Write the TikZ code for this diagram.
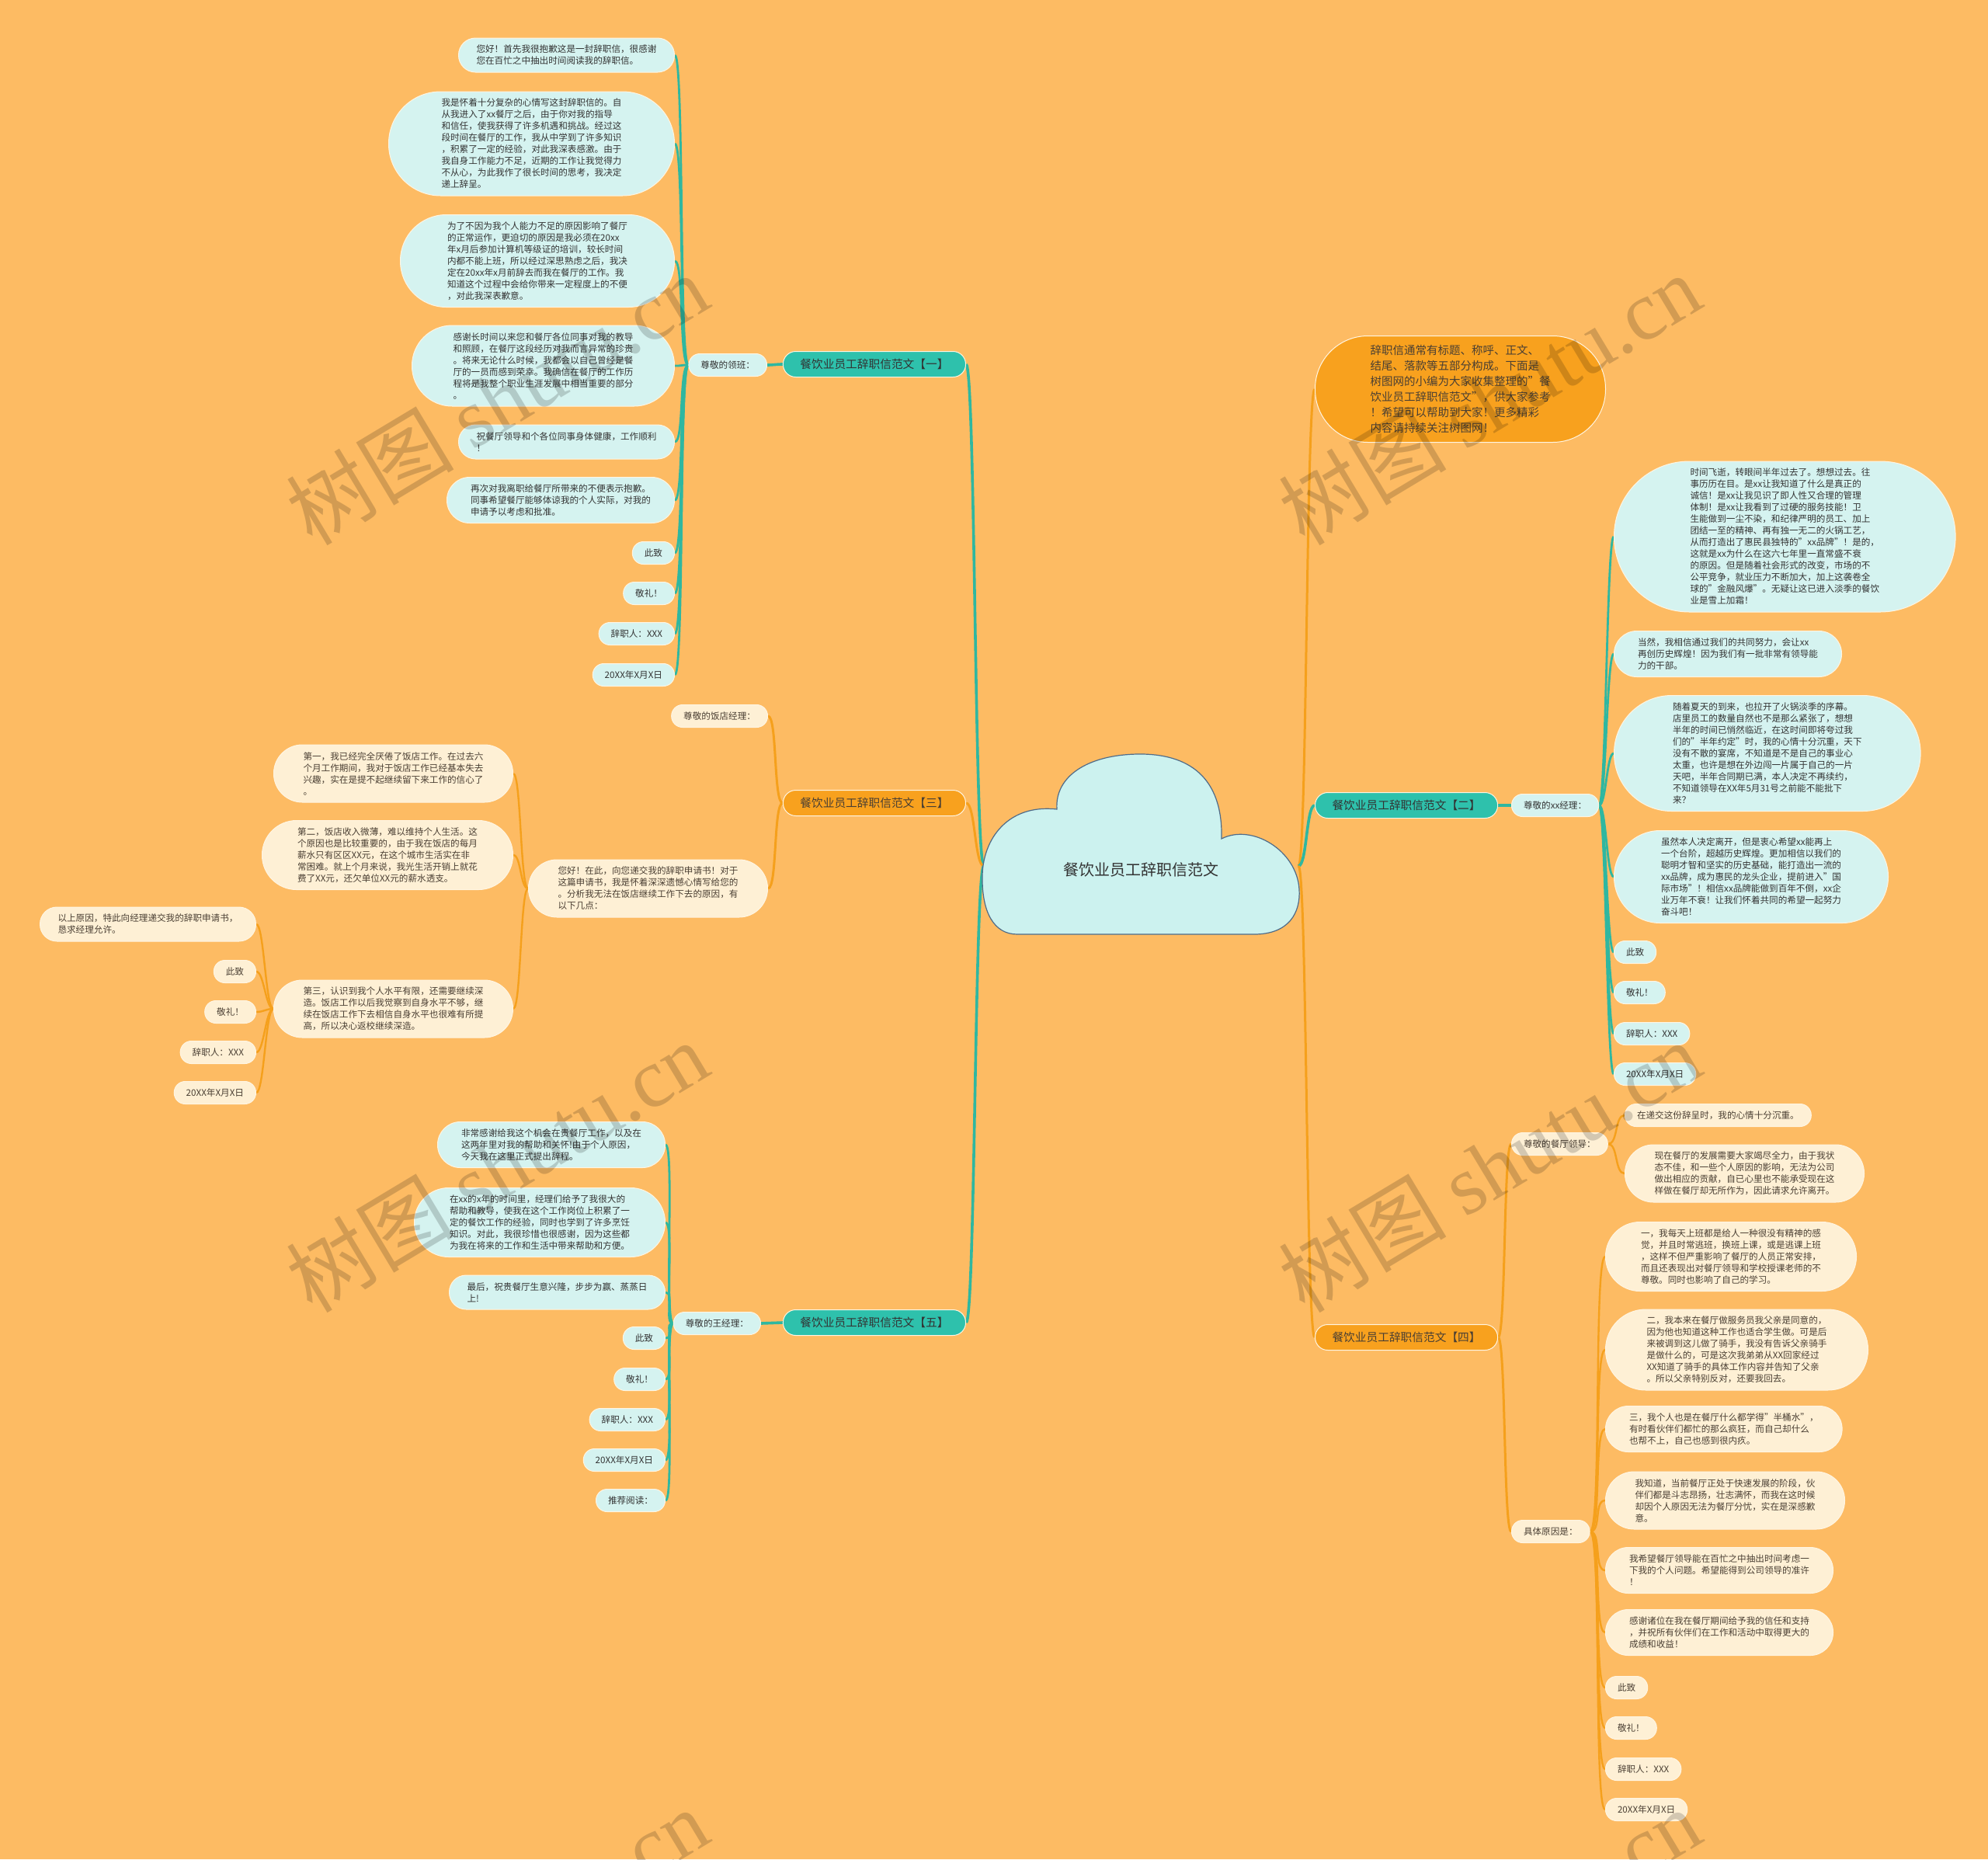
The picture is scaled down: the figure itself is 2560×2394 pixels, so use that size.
\documentclass[tikz,border=0pt]{standalone}
\usepackage{fontspec}
\setmainfont{Noto Sans CJK SC}
\newfontfamily\wmlatin{Liberation Serif}
\pgfdeclarelayer{lines}
\pgfsetlayers{lines,main}
\definecolor{bgc}{HTML}{FDBB63}
\definecolor{tealbr}{HTML}{2EC1AC}
\definecolor{tealleaf}{HTML}{D5F3F0}
\definecolor{orangebr}{HTML}{F8A11E}
\definecolor{creamleaf}{HTML}{FEF0D5}
\definecolor{tealln}{HTML}{2FB7A0}
\definecolor{orangeln}{HTML}{F5A01C}
\definecolor{cloudfill}{HTML}{CCF2EF}
\definecolor{cloudline}{HTML}{4F6B88}
\definecolor{txtdark}{HTML}{333333}
\definecolor{txtbrown}{HTML}{4A3F33}
\definecolor{edgelight}{HTML}{FFF5E2}
\newcommand\ConnL[4]{\draw[#1] (#2.west) .. controls +(-#4,0) and +(#4,0) .. (#3.east);}
\newcommand\ConnR[4]{\draw[#1] (#2.east) .. controls +(#4,0) and +(-#4,0) .. (#3.west);}
\tikzset{
 ln/.style={minimum height={29pt+15pt*(#1-1)}, rounded corners={14.3pt+7.5pt*(#1-1)}, inner xsep={15.5pt+7.5pt*(#1-1)}},
 leafbase/.style={rectangle, inner ysep=7pt, align=left, font=\fontsize{11.6}{15}\selectfont, line width=1pt, draw=edgelight},
 tleaf/.style={leafbase, fill=tealleaf, text=txtdark, ln=#1},
 cleaf/.style={leafbase, fill=creamleaf, text=txtbrown, ln=#1},
 tleaf/.default=1,
 cleaf/.default=1,
 branchbase/.style={rectangle, minimum height=33pt, rounded corners=16.3pt, inner xsep=22pt, inner ysep=8pt, font=\fontsize{14.7}{18}\selectfont, line width=1pt, draw=edgelight},
 tbranch/.style={branchbase, fill=tealbr, text=txtdark},
 obranch/.style={branchbase, fill=orangebr, text=txtbrown},
 introbox/.style={rectangle, fill=orangebr, draw=edgelight, line width=1pt, minimum height=137pt, rounded corners=68pt, inner xsep=71pt, inner ysep=8pt, align=left, font=\fontsize{14.5}{20}\selectfont, text=txtbrown},
 tline/.style={draw=tealln, line width=2.8pt},
 oline/.style={draw=orangeln, line width=2.4pt},
 tmain/.style={draw=tealln, line width=3.6pt},
 omain/.style={draw=orangeln, line width=3pt},
 wmark/.style={text=black, opacity=0.17, font=\fontsize{108}{108}\selectfont, rotate=31},
}
\begin{document}
\begin{tikzpicture}[x=1pt,y=-1pt]
\useasboundingbox (0,0) rectangle (2560,2394);

% ---------- cloud ----------
\draw[fill=cloudfill, draw=cloudline, line width=1.2pt]
 (1310,1203) -- (1615,1203)
 .. controls (1660,1203) and (1675,1175) .. (1673,1145)
 .. controls (1670,1095) and (1612,1060) .. (1573,1080)
 .. controls (1575,1000) and (1530,970) .. (1465,971)
 .. controls (1400,972) and (1358,1000) .. (1361,1042)
 .. controls (1298,1035) and (1266,1080) .. (1265,1127)
 .. controls (1264,1175) and (1280,1203) .. (1310,1203) -- cycle;
\node[font=\fontsize{20}{24}\selectfont, text=txtdark] (center) at (1469,1120) {餐饮业员工辞职信范文};
\coordinate (cL) at (1267,1115);
\coordinate (cR) at (1672,1115);

% ---------- branch 1 ----------
\node[tbranch, anchor=east] (b1) at (1244,469) {餐饮业员工辞职信范文【一】};
\node[tleaf, anchor=east] (s1) at (988,470) {尊敬的领班：};
\node[tleaf=2, anchor=east] (a1) at (869,71) {您好！首先我很抱歉这是一封辞职信，很感谢\\您在百忙之中抽出时间阅读我的辞职信。};
\node[tleaf=8, anchor=east] (a2) at (869,185) {我是怀着十分复杂的心情写这封辞职信的。自\\从我进入了xx餐厅之后，由于你对我的指导\\和信任，使我获得了许多机遇和挑战。经过这\\段时间在餐厅的工作，我从中学到了许多知识\\，积累了一定的经验，对此我深表感激。由于\\我自身工作能力不足，近期的工作让我觉得力\\不从心，为此我作了很长时间的思考，我决定\\递上辞呈。};
\node[tleaf=7, anchor=east] (a3) at (869,336) {为了不因为我个人能力不足的原因影响了餐厅\\的正常运作，更迫切的原因是我必须在20xx\\年x月后参加计算机等级证的培训，较长时间\\内都不能上班，所以经过深思熟虑之后，我决\\定在20xx年x月前辞去而我在餐厅的工作。我\\知道这个过程中会给你带来一定程度上的不便\\，对此我深表歉意。};
\node[tleaf=6, anchor=east] (a4) at (869,471) {感谢长时间以来您和餐厅各位同事对我的教导\\和照顾，在餐厅这段经历对我而言异常的珍贵\\。将来无论什么时候，我都会以自己曾经是餐\\厅的一员而感到荣幸。我确信在餐厅的工作历\\程将是我整个职业生涯发展中相当重要的部分\\。};
\node[tleaf=2, anchor=east] (a5) at (869,569) {祝餐厅领导和个各位同事身体健康，工作顺利\\！};
\node[tleaf=3, anchor=east] (a6) at (869,644) {再次对我离职给餐厅所带来的不便表示抱歉。\\同事希望餐厅能够体谅我的个人实际，对我的\\申请予以考虑和批准。};
\node[tleaf, anchor=east] (a7) at (869,712) {此致};
\node[tleaf, anchor=east] (a8) at (869,764) {敬礼！};
\node[tleaf, anchor=east] (a9) at (869,816) {辞职人：XXX};
\node[tleaf, anchor=east] (a10) at (869,869) {20XX年X月X日};

% ---------- branch 3 ----------
\node[obranch, anchor=east] (b3) at (1244,1034) {餐饮业员工辞职信范文【三】};
\node[cleaf, anchor=east] (s3a) at (989,922) {尊敬的饭店经理：};
\node[cleaf=4, anchor=east] (s3b) at (989,1144) {您好！在此，向您递交我的辞职申请书！对于\\这篇申请书，我是怀着深深遗憾心情写给您的\\。分析我无法在饭店继续工作下去的原因，有\\以下几点：};
\node[cleaf=4, anchor=east] (t1) at (661,996) {第一，我已经完全厌倦了饭店工作。在过去六\\个月工作期间，我对于饭店工作已经基本失去\\兴趣，实在是提不起继续留下来工作的信心了\\。};
\node[cleaf=5, anchor=east] (t2) at (661,1101) {第二，饭店收入微薄，难以维持个人生活。这\\个原因也是比较重要的，由于我在饭店的每月\\薪水只有区区XX元，在这个城市生活实在非\\常困难。就上个月来说，我光生活开销上就花\\费了XX元，还欠单位XX元的薪水透支。};
\node[cleaf=4, anchor=east] (t3) at (661,1299) {第三，认识到我个人水平有限，还需要继续深\\造。饭店工作以后我觉察到自身水平不够，继\\续在饭店工作下去相信自身水平也很难有所提\\高，所以决心返校继续深造。};
\node[cleaf=2, anchor=east] (u1) at (330,1190) {以上原因，特此向经理递交我的辞职申请书，\\恳求经理允许。};
\node[cleaf, anchor=east] (u2) at (330,1251) {此致};
\node[cleaf, anchor=east] (u3) at (330,1303) {敬礼！};
\node[cleaf, anchor=east] (u4) at (330,1355) {辞职人：XXX};
\node[cleaf, anchor=east] (u5) at (330,1407) {20XX年X月X日};

% ---------- branch 5 ----------
\node[tbranch, anchor=east] (b5) at (1244,1703) {餐饮业员工辞职信范文【五】};
\node[tleaf, anchor=east] (s5) at (980,1704) {尊敬的王经理：};
\node[tleaf=3, anchor=east] (e1) at (857,1474) {非常感谢给我这个机会在贵餐厅工作，以及在\\这两年里对我的帮助和关怀!由于个人原因，\\今天我在这里正式提出辞程。};
\node[tleaf=5, anchor=east] (e2) at (857,1574) {在xx的x年的时间里，经理们给予了我很大的\\帮助和教导，使我在这个工作岗位上积累了一\\定的餐饮工作的经验，同时也学到了许多烹饪\\知识。对此，我很珍惜也很感谢，因为这些都\\为我在将来的工作和生活中带来帮助和方便。};
\node[tleaf=2, anchor=east] (e3) at (857,1664) {最后，祝贵餐厅生意兴隆，步步为赢、蒸蒸日\\上!};
\node[tleaf, anchor=east] (e4) at (857,1723) {此致};
\node[tleaf, anchor=east] (e5) at (857,1776) {敬礼！};
\node[tleaf, anchor=east] (e6) at (857,1828) {辞职人：XXX};
\node[tleaf, anchor=east] (e7) at (857,1880) {20XX年X月X日};
\node[tleaf, anchor=east] (e8) at (857,1932) {推荐阅读：};

% ---------- intro ----------
\node[introbox, anchor=west] (intro) at (1693,501) {辞职信通常有标题、称呼、正文、\\结尾、落款等五部分构成。下面是\\树图网的小编为大家收集整理的"餐\\饮业员工辞职信范文"，供大家参考\\！希望可以帮助到大家！更多精彩\\内容请持续关注树图网！};

% ---------- branch 2 ----------
\node[tbranch, anchor=west] (b2) at (1693,1037) {餐饮业员工辞职信范文【二】};
\node[tleaf, anchor=west] (s2) at (1946,1037) {尊敬的xx经理：};
\node[tleaf=12, anchor=west] (r1) at (2078,691) {时间飞逝，转眼间半年过去了。想想过去。往\\事历历在目。是xx让我知道了什么是真正的\\诚信！是xx让我见识了即人性又合理的管理\\体制！是xx让我看到了过硬的服务技能！卫\\生能做到一尘不染，和纪律严明的员工、加上\\团结一至的精神、再有独一无二的火锅工艺，\\从而打造出了惠民县独特的"xx品牌"！是的，\\这就是xx为什么在这六七年里一直常盛不衰\\的原因。但是随着社会形式的改变，市场的不\\公平竞争，就业压力不断加大，加上这袭卷全\\球的"金融风爆"。无疑让这已进入淡季的餐饮\\业是雪上加霜！};
\node[tleaf=3, anchor=west] (r2) at (2078,842) {当然，我相信通过我们的共同努力，会让xx\\再创历史辉煌！因为我们有一批非常有领导能\\力的干部。};
\node[tleaf=9, anchor=west] (r3) at (2078,970) {随着夏天的到来，也拉开了火锅淡季的序幕。\\店里员工的数量自然也不是那么紧张了，想想\\半年的时间已悄然临近，在这时间即将夸过我\\们的"半年约定"时，我的心情十分沉重，天下\\没有不散的宴席，不知道是不是自己的事业心\\太重，也许是想在外边闯一片属于自己的一片\\天吧，半年合同期已满，本人决定不再续约，\\不知道领导在XX年5月31号之前能不能批下\\来？};
\node[tleaf=7, anchor=west] (r4) at (2078,1129) {虽然本人决定离开，但是衷心希望xx能再上\\一个台阶，超越历史辉煌。更加相信以我们的\\聪明才智和坚实的历史基础，能打造出一流的\\xx品牌，成为惠民的龙头企业，提前进入"国\\际市场"！相信xx品牌能做到百年不倒，xx企\\业万年不衰！让我们怀着共同的希望一起努力\\奋斗吧！};
\node[tleaf, anchor=west] (r5) at (2078,1226) {此致};
\node[tleaf, anchor=west] (r6) at (2078,1278) {敬礼！};
\node[tleaf, anchor=west] (r7) at (2078,1331) {辞职人：XXX};
\node[tleaf, anchor=west] (r8) at (2078,1383) {20XX年X月X日};

% ---------- branch 4 ----------
\node[obranch, anchor=west] (b4) at (1693,1722) {餐饮业员工辞职信范文【四】};
\node[cleaf, anchor=west] (s4a) at (1946,1473) {尊敬的餐厅领导：};
\node[cleaf, anchor=west] (s4b) at (1946,1972) {具体原因是：};
\node[cleaf, anchor=west] (f1) at (2092,1436) {在递交这份辞呈时，我的心情十分沉重。};
\node[cleaf=4, anchor=west] (f2) at (2092,1511) {现在餐厅的发展需要大家竭尽全力，由于我状\\态不佳，和一些个人原因的影响，无法为公司\\做出相应的贡献，自已心里也不能承受现在这\\样做在餐厅却无所作为，因此请求允许离开。};
\node[cleaf=5, anchor=west] (g1) at (2067,1618) {一，我每天上班都是给人一种很没有精神的感\\觉，并且时常逃班，换班上课，或是逃课上班\\，这样不但严重影响了餐厅的人员正常安排，\\而且还表现出对餐厅领导和学校授课老师的不\\尊敬。同时也影响了自己的学习。};
\node[cleaf=6, anchor=west] (g2) at (2067,1738) {二，我本来在餐厅做服务员我父亲是同意的，\\因为他也知道这种工作也适合学生做。可是后\\来被调到这儿做了骑手，我没有告诉父亲骑手\\是做什么的，可是这次我弟弟从XX回家经过\\XX知道了骑手的具体工作内容并告知了父亲\\。所以父亲特别反对，还要我回去。};
\node[cleaf=3, anchor=west] (g3) at (2067,1840) {三，我个人也是在餐厅什么都学得"半桶水"，\\有时看伙伴们都忙的那么疯狂，而自己却什么\\也帮不上，自己也感到很内疚。};
\node[cleaf=4, anchor=west] (g4) at (2067,1932) {我知道，当前餐厅正处于快速发展的阶段，伙\\伴们都是斗志昂扬，壮志满怀，而我在这时候\\却因个人原因无法为餐厅分忧，实在是深感歉\\意。};
\node[cleaf=3, anchor=west] (g5) at (2067,2022) {我希望餐厅领导能在百忙之中抽出时间考虑一\\下我的个人问题。希望能得到公司领导的准许\\！};
\node[cleaf=3, anchor=west] (g6) at (2067,2102) {感谢诸位在我在餐厅期间给予我的信任和支持\\，并祝所有伙伴们在工作和活动中取得更大的\\成绩和收益！};
\node[cleaf, anchor=west] (g7) at (2067,2173) {此致};
\node[cleaf, anchor=west] (g8) at (2067,2225) {敬礼！};
\node[cleaf, anchor=west] (g9) at (2067,2278) {辞职人：XXX};
\node[cleaf, anchor=west] (g10) at (2067,2330) {20XX年X月X日};

% ---------- connectors ----------
\begin{pgfonlayer}{lines}
\fill[bgc] (0,0) rectangle (2560,2394);
\draw[tmain] (cL) .. controls +(-12,0) and +(12,0) .. (b1.east);
\draw[omain] (cL) .. controls +(-12,0) and +(12,0) .. (b3.east);
\draw[tmain] (cL) .. controls +(-12,0) and +(12,0) .. (b5.east);
\draw[omain] (cR) .. controls +(11,0) and +(-11,0) .. (intro.west);
\draw[tmain] (cR) .. controls +(11,0) and +(-11,0) .. (b2.west);
\draw[omain] (cR) .. controls +(11,0) and +(-11,0) .. (b4.west);
\ConnL{tmain}{b1}{s1}{8}
\foreach \i in {1,...,10} {\ConnL{tline}{s1}{a\i}{12}}
\ConnL{omain}{b3}{s3a}{12}
\ConnL{omain}{b3}{s3b}{12}
\foreach \i in {1,2,3} {\ConnL{oline}{s3b}{t\i}{10}}
\foreach \i in {1,...,5} {\ConnL{oline}{t3}{u\i}{10}}
\ConnL{tmain}{b5}{s5}{14}
\foreach \i in {1,...,8} {\ConnL{tline}{s5}{e\i}{12}}
\ConnR{tmain}{b2}{s2}{8}
\foreach \i in {1,...,8} {\ConnR{tline}{s2}{r\i}{9}}
\ConnR{omain}{b4}{s4a}{10}
\ConnR{omain}{b4}{s4b}{10}
\foreach \i in {1,2} {\ConnR{oline}{s4a}{f\i}{13}}
\foreach \i in {1,...,10} {\ConnR{oline}{s4b}{g\i}{15}}
\end{pgfonlayer}

% ---------- watermarks ----------
\node[wmark] (wm1) at (640,514) {树图 {\wmlatin shutu.cn}};
\node[wmark] (wm2) at (1918,514) {树图 {\wmlatin shutu.cn}};
\node[wmark] (wm3) at (640,1502) {树图 {\wmlatin shutu.cn}};
\node[wmark] (wm4) at (1918,1502) {树图 {\wmlatin shutu.cn}};
\node[wmark] (wm5) at (640,2490) {树图 {\wmlatin shutu.cn}};
\node[wmark] (wm6) at (1918,2490) {树图 {\wmlatin shutu.cn}};
\end{tikzpicture}
\end{document}
